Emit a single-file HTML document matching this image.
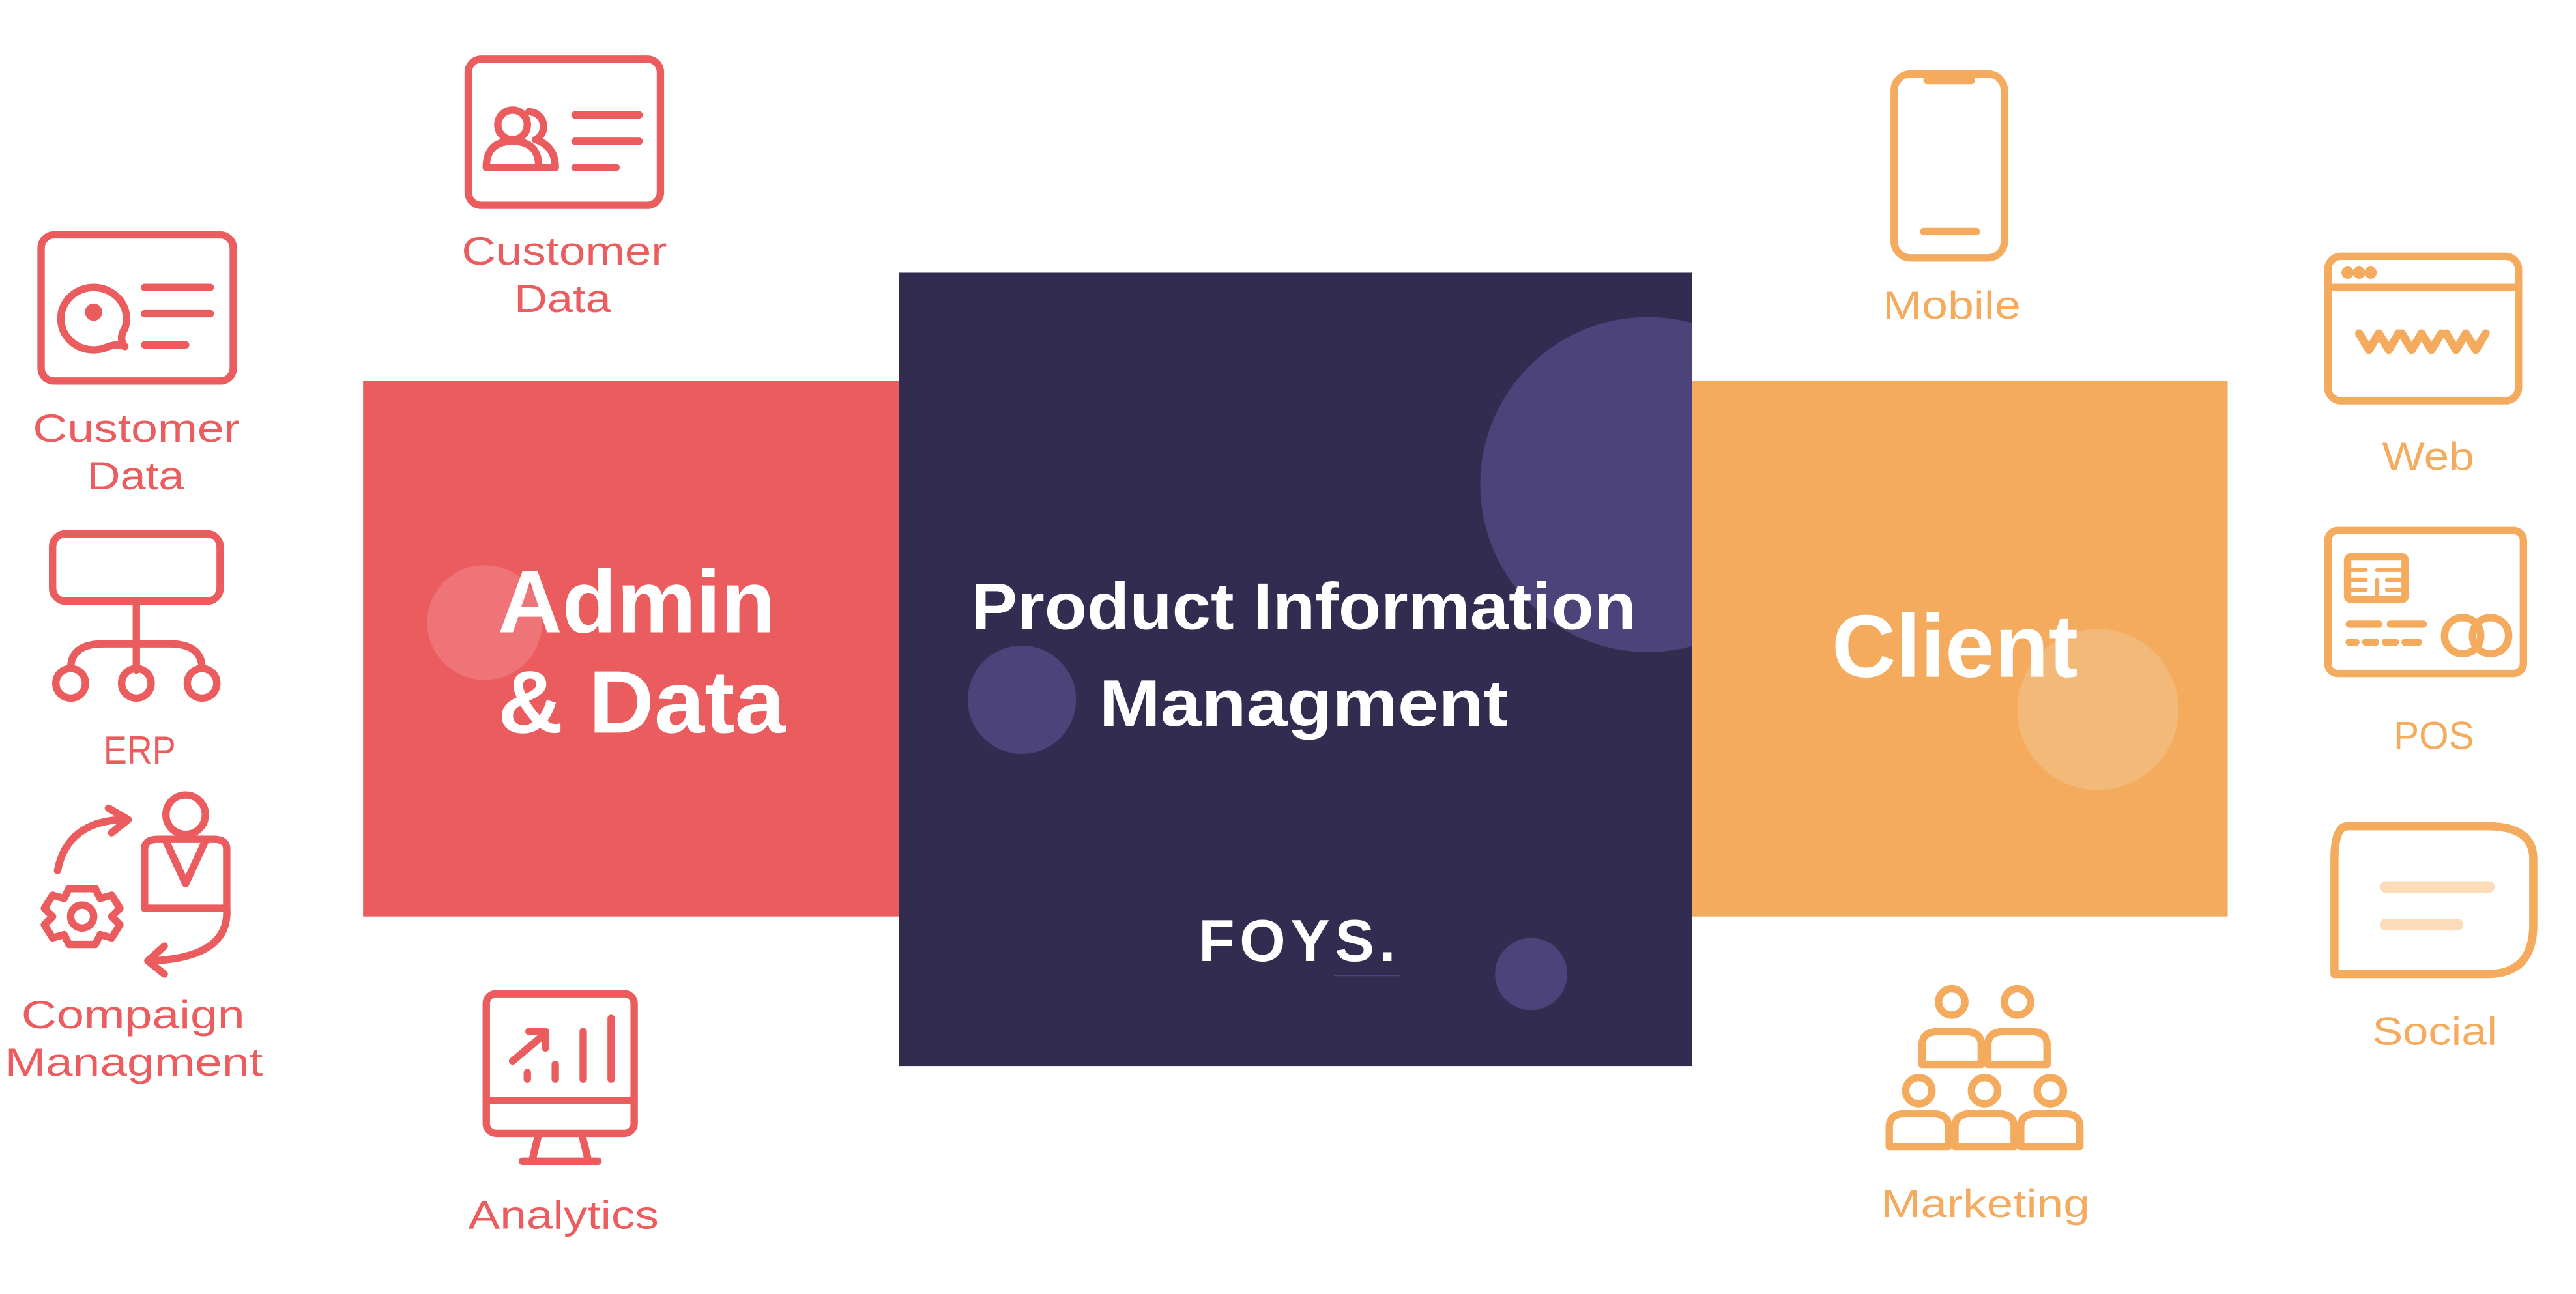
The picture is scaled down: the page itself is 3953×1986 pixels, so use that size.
<!DOCTYPE html>
<html><head><meta charset="utf-8"><style>
html,body{margin:0;padding:0;background:#fff;}
svg{display:block;}
text{font-family:"Liberation Sans",sans-serif;}
</style></head><body>
<svg width="3953" height="1986" viewBox="0 0 1568 787.8" preserveAspectRatio="none" xmlns="http://www.w3.org/2000/svg">
<defs>
<clipPath id="dk"><rect x="547" y="166" width="483" height="483"/></clipPath>
<clipPath id="or"><rect x="1030" y="232" width="326" height="326"/></clipPath>
</defs>
<rect width="1568" height="788" fill="#fff"/>
<rect x="221" y="232" width="327" height="326" fill="#eb5c5f"/>
<circle cx="295" cy="379" r="35" fill="#ee7478"/>
<rect x="1030" y="232" width="326" height="326" fill="#f4ab5e"/>
<circle cx="1277" cy="432" r="49" fill="#f3b979" clip-path="url(#or)"/>
<rect x="547" y="166" width="483" height="483" fill="#312c50"/>
<g clip-path="url(#dk)">
<circle cx="1003" cy="295" r="102" fill="#4b4379"/>
</g>
<circle cx="622" cy="426" r="33" fill="#4b4379"/>
<circle cx="932" cy="593" r="22" fill="#4b4379"/>
<g fill="#fff" font-weight="bold" lengthAdjust="spacingAndGlyphs">
<text x="303" y="385" font-size="54" textLength="169" lengthAdjust="spacingAndGlyphs">Admin</text>
<text x="303" y="446" font-size="54" textLength="175" lengthAdjust="spacingAndGlyphs">&amp; Data</text>
<text x="591" y="383" font-size="40" textLength="405" lengthAdjust="spacingAndGlyphs">Product Information</text>
<text x="669" y="442" font-size="40" textLength="249" lengthAdjust="spacingAndGlyphs">Managment</text>
<text x="1190" y="412" font-size="54" text-anchor="middle">Client</text>
<text x="791" y="585" font-size="36" text-anchor="middle" letter-spacing="3">FOYS.</text>
</g>
<line x1="812" y1="594" x2="852" y2="594" stroke="#4b4379" stroke-width="0.6"/>
<g fill="#eb5c5f" font-size="24">
<text x="281" y="161" textLength="125" lengthAdjust="spacingAndGlyphs">Customer</text><text x="313" y="190" textLength="59" lengthAdjust="spacingAndGlyphs">Data</text>
<text x="20" y="269" textLength="126" lengthAdjust="spacingAndGlyphs">Customer</text><text x="53" y="298" textLength="59" lengthAdjust="spacingAndGlyphs">Data</text>
<text x="63" y="465" textLength="44" lengthAdjust="spacingAndGlyphs">ERP</text>
<text x="13" y="626" textLength="136" lengthAdjust="spacingAndGlyphs">Compaign</text><text x="3" y="655" textLength="157" lengthAdjust="spacingAndGlyphs">Managment</text>
<text x="285" y="748" textLength="116" lengthAdjust="spacingAndGlyphs">Analytics</text>
</g>
<g fill="#f4ab5e" font-size="24">
<text x="1146" y="194" textLength="84" lengthAdjust="spacingAndGlyphs">Mobile</text>
<text x="1450" y="286" textLength="56" lengthAdjust="spacingAndGlyphs">Web</text>
<text x="1457" y="456" textLength="49" lengthAdjust="spacingAndGlyphs">POS</text>
<text x="1444" y="636" textLength="76" lengthAdjust="spacingAndGlyphs">Social</text>
<text x="1145" y="741" textLength="127" lengthAdjust="spacingAndGlyphs">Marketing</text>
</g>
<g fill="none" stroke="#eb5c5f" stroke-width="4.5" stroke-linecap="round" stroke-linejoin="round">
<rect x="285" y="36" width="117" height="89" rx="8"/>
<circle cx="312" cy="76" r="9"/>
<path d="M296 102 q0 -16 16 -16 q16 0 16 16 z"/>
<path d="M322 68 a9 9 0 0 1 4 17 q12 4 12 17 h-8"/>
<line x1="350" y1="70" x2="389" y2="70"/><line x1="350" y1="86" x2="389" y2="86"/><line x1="350" y1="102" x2="375" y2="102"/>
<rect x="25" y="143" width="117" height="89" rx="8"/>
<path d="M76 200 a20 19 0 1 0 -10 11 q6 -2 10 0 q-4 -5 0 -11z"/>
<circle cx="57" cy="190" r="3" fill="#eb5c5f"/>
<line x1="88" y1="175" x2="128" y2="175"/><line x1="88" y1="191" x2="128" y2="191"/><line x1="88" y1="210" x2="113" y2="210"/>
<rect x="32" y="325" width="102" height="41" rx="8"/>
<line x1="83" y1="366" x2="83" y2="408"/>
<path d="M43 407 q0 -15 20 -15 h40 q20 0 20 15"/>
<circle cx="43" cy="416" r="9"/><circle cx="83" cy="416" r="9"/><circle cx="123" cy="416" r="9"/>
<circle cx="113" cy="496" r="12"/>
<path d="M88 553 v-36 q0 -6 8 -6 h34 q8 0 8 6 v36 z"/>
<path d="M101 512 l12 26 l12 -26"/>
<path d="M35 530 q6 -30 40 -31"/><path d="M66 492 l12 7 l-10 8"/>
<path d="M138 553 q2 30 -46 32"/><path d="M100 576 l-10 9 l10 8"/>
<circle cx="50" cy="558" r="7"/>
<path d="M42 541 h16 l3 6 l7 -2 l5 8 l-5 5 l5 5 l-5 8 l-7 -2 l-3 6 h-16 l-3 -6 l-7 2 l-5 -8 l5 -5 l-5 -5 l5 -8 l7 2 z"/>
<rect x="296" y="605" width="90" height="85" rx="6"/>
<line x1="296" y1="670" x2="386" y2="670"/>
<path d="M328 690 l-4 16 M354 690 l4 16 M318 707 h46"/>
<path d="M312 646 l19 -16 M322 628 h10 v10"/>
<line x1="321" y1="653" x2="321" y2="657"/><line x1="338" y1="648" x2="338" y2="657"/>
<line x1="355" y1="628" x2="355" y2="657"/><line x1="372" y1="620" x2="372" y2="657"/>
</g>
<g fill="none" stroke="#f4ab5e" stroke-width="4.5" stroke-linecap="round" stroke-linejoin="round">
<rect x="1153" y="45" width="67" height="112" rx="10"/>
<line x1="1173" y1="49" x2="1200" y2="49"/>
<line x1="1171" y1="141" x2="1203" y2="141"/>
<rect x="1417" y="156" width="116" height="88" rx="8"/>
<line x1="1417" y1="175" x2="1533" y2="175"/>
<circle cx="1429" cy="166" r="1.5" fill="#f4ab5e"/><circle cx="1436" cy="166" r="1.5" fill="#f4ab5e"/><circle cx="1443" cy="166" r="1.5" fill="#f4ab5e"/>
<path d="M1436 203 l6 10 l6 -10 l6 10 l6 -10 M1462 203 l6 10 l6 -10 l6 10 l6 -10 M1489 203 l6 10 l6 -10 l6 10 l6 -10" stroke-width="5"/>
<rect x="1417" y="323" width="119" height="87" rx="6"/>
<rect x="1429" y="339" width="35" height="26" rx="2"/>
<path d="M1432 347 h8 M1432 353 h8 M1432 359 h8 M1447 347 h14 M1447 353 v9 M1453 353 h8 M1453 359 h8" stroke-width="2.5"/>
<line x1="1430" y1="380" x2="1448" y2="380"/><line x1="1455" y1="380" x2="1475" y2="380"/>
<path d="M1430 391 h4 M1440 391 h6 M1452 391 h6 M1464 391 h8" />
<circle cx="1499" cy="387" r="11"/><circle cx="1516" cy="387" r="11"/>
<path d="M1429 503 h85 q28 0 28 20 v40 q0 30 -28 30 h-93 v-70 q0 -20 8 -20z" stroke-width="5"/>
</g>
<g stroke="#fcdcb8" stroke-width="7" stroke-linecap="round">
<line x1="1452" y1="540" x2="1515" y2="540"/><line x1="1452" y1="563" x2="1496" y2="563"/>
</g>
<g fill="none" stroke="#f4ab5e" stroke-width="4.5" stroke-linejoin="round">
<circle cx="1188" cy="610" r="8"/><circle cx="1228" cy="610" r="8"/>
<path d="M1170 648 v-12 q0 -8 10 -8 h16 q10 0 10 8 v12 z"/>
<path d="M1210 648 v-12 q0 -8 10 -8 h16 q10 0 10 8 v12 z"/>
<circle cx="1168" cy="664" r="8"/><circle cx="1208" cy="664" r="8"/><circle cx="1248" cy="664" r="8"/>
<path d="M1150 698 v-12 q0 -8 10 -8 h16 q10 0 10 8 v12 z"/>
<path d="M1190 698 v-12 q0 -8 10 -8 h16 q10 0 10 8 v12 z"/>
<path d="M1230 698 v-12 q0 -8 10 -8 h16 q10 0 10 8 v12 z"/>
</g>
</svg>
</body></html>
